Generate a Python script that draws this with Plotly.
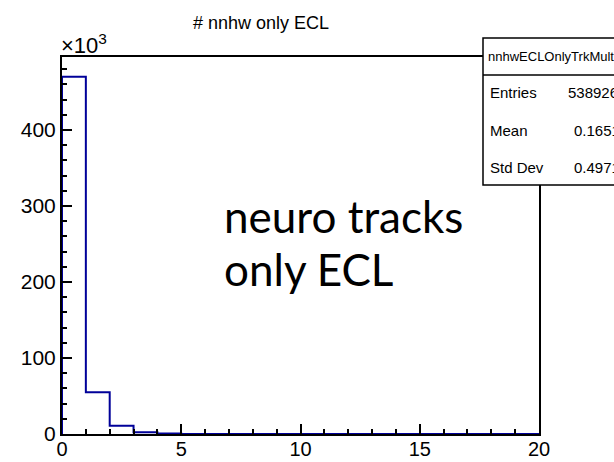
import plotly.graph_objects as go

# ---- data ----
bin_edges = list(range(0, 21))
counts = [470000, 55000, 11000, 2300, 500, 100, 26, 0, 0, 0,
          0, 0, 0, 0, 0, 0, 0, 0, 0, 0]
y_tick_vals = [0, 100000, 200000, 300000, 400000]
y_tick_text = ["0", "100", "200", "300", "400"]
x_tick_vals = [0, 5, 10, 15, 20]
title_text = "# nnhw only ECL"
stat_name = "nnhwECLOnlyTrkMult"
stat_labels = ["Entries", "Mean", "Std Dev"]
stat_values = ["538926", "0.1651", "0.4971"]
note_lines = ["neuro tracks", "only ECL"]

# step line through bin edges
xs = [bin_edges[0]] + bin_edges
ys = [0] + counts + [counts[-1]]

fig = go.Figure()
fig.add_trace(go.Scatter(x=xs, y=ys, mode="lines", line_shape="hv",
                         line=dict(color="#000099", width=2), hoverinfo="skip"))

L, R, T, B = 62, 75, 57, 28
W, H = 614, 462
pw, ph = W - L - R, H - T - B

def px(x):
    return (x - L) / pw

def py(y):
    return (H - B - y) / ph

font = "Liberation Sans, Arial, sans-serif"

fig.update_layout(
    width=W, height=H,
    margin=dict(l=L, r=R, t=T, b=B, autoexpand=False),
    paper_bgcolor="white", plot_bgcolor="white",
    showlegend=False,
    font=dict(family=font, color="black"),
    xaxis=dict(range=[0, 20], tickvals=x_tick_vals, ticks="inside", ticklen=10,
               tickwidth=1.5, tickcolor="black", showgrid=False, zeroline=False,
               showline=True, linecolor="black", linewidth=2, mirror=True,
               automargin=False, tickfont=dict(size=20, family=font),
               ticklabelstandoff=-4,
               minor=dict(dtick=1, ticks="inside", ticklen=5, tickcolor="black", tickwidth=1.5)),
    yaxis=dict(range=[0, 496000], tickvals=y_tick_vals, ticktext=y_tick_text,
               ticks="inside", ticklen=10, tickwidth=1.5, tickcolor="black",
               showgrid=False, zeroline=False, showline=True, linecolor="black",
               linewidth=2, mirror=True, automargin=False, tickfont=dict(size=21, family=font),
               minor=dict(dtick=20000, ticks="inside", ticklen=5, tickcolor="black", tickwidth=1.5)),
)

annotations = [
    dict(text=title_text, x=px(261), y=py(23), xref="paper", yref="paper",
         showarrow=False, font=dict(size=18, family=font), xanchor="center", yanchor="middle"),
    dict(text="×10<sup>3</sup>", x=px(59), y=py(44), xref="paper", yref="paper",
         showarrow=False, font=dict(size=22, family=font), xanchor="left", yanchor="middle"),
    dict(text=note_lines[0], x=px(222), y=py(216), xref="paper", yref="paper",
         showarrow=False, font=dict(size=44, family="Lato, Open Sans, sans-serif"),
         xanchor="left", yanchor="middle"),
    dict(text=note_lines[1], x=px(222), y=py(269), xref="paper", yref="paper",
         showarrow=False, font=dict(size=44, family="Lato, Open Sans, sans-serif"),
         xanchor="left", yanchor="middle"),
    dict(text=stat_name, x=px(486), y=py(56), xref="paper", yref="paper",
         showarrow=False, font=dict(size=13, family=font), xanchor="left", yanchor="middle"),
]
row_y = [93, 130, 167]
for lab, val, yy in zip(stat_labels, stat_values, row_y):
    annotations.append(dict(text=lab, x=px(488), y=py(yy), xref="paper", yref="paper",
                            showarrow=False, font=dict(size=15, family=font),
                            xanchor="left", yanchor="middle"))
    annotations.append(dict(text=val, x=px(566 if lab == "Entries" else 572), y=py(yy),
                            xref="paper", yref="paper", showarrow=False,
                            font=dict(size=15, family=font), xanchor="left", yanchor="middle"))
fig.update_layout(annotations=annotations)

fig.update_layout(shapes=[
    dict(type="rect", xref="paper", yref="paper", x0=px(483), x1=px(720),
         y0=py(185), y1=py(38), fillcolor="white", line=dict(color="black", width=1.5),
         layer="above"),
    dict(type="line", xref="paper", yref="paper", x0=px(483), x1=px(720),
         y0=py(75), y1=py(75), line=dict(color="black", width=1.5), layer="above"),
])

fig.write_html("out.html")
